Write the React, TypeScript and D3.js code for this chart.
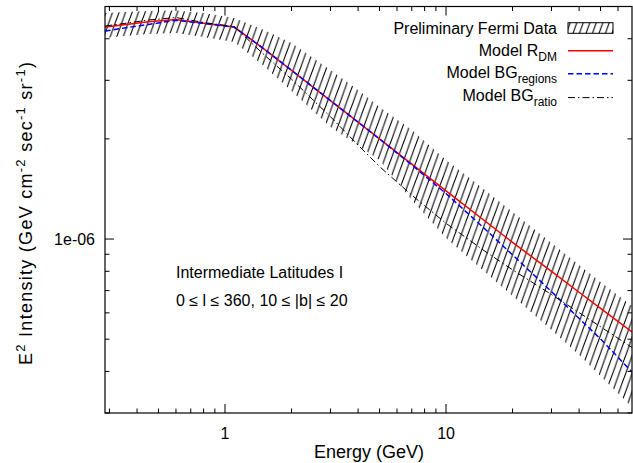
import React from "react";
import * as d3 from "d3";

const energies = [0.287, 0.35, 0.45, 0.6, 0.8, 1.1, 1.5, 2, 3, 4, 5, 7, 10, 15, 20, 30, 40, 50, 69.4];
const bandUpper = [4.78e-6, 4.813e-6, 4.846e-6, 4.863e-6, 4.78e-6, 4.617e-6, 4.25e-6, 3.884e-6, 3.221e-6, 2.805e-6, 2.493e-6, 2.127e-6, 1.728e-6, 1.404e-6, 1.206e-6, 9.73e-7, 8.35e-7, 7.43e-7, 6.29e-7];
const bandLower = [4.021e-6, 4.077e-6, 4.133e-6, 4.162e-6, 4.049e-6, 3.911e-6, 3.312e-6, 2.786e-6, 2.172e-6, 1.911e-6, 1.728e-6, 1.31e-6, 1.007e-6, 7.96e-7, 6.74e-7, 5.33e-7, 4.48e-7, 3.877e-7, 3.128e-7];
const modelRDM = [4.339e-6, 4.408e-6, 4.497e-6, 4.566e-6, 4.454e-6, 4.336e-6, 3.731e-6, 3.215e-6, 2.607e-6, 2.245e-6, 2.0e-6, 1.68e-6, 1.396e-6, 1.133e-6, 9.77e-7, 7.99e-7, 6.92e-7, 6.19e-7, 5.255e-7];
const modelBGregions = [4.22e-6, 4.308e-6, 4.414e-6, 4.547e-6, 4.448e-6, 4.336e-6, 3.731e-6, 3.215e-6, 2.607e-6, 2.245e-6, 2.0e-6, 1.67e-6, 1.37e-6, 1.072e-6, 8.96e-7, 6.95e-7, 5.77e-7, 5.01e-7, 3.985e-7];
const modelBGratio = [4.369e-6, 4.445e-6, 4.554e-6, 4.633e-6, 4.476e-6, 4.354e-6, 3.584e-6, 3.023e-6, 2.332e-6, 1.916e-6, 1.652e-6, 1.355e-6, 1.115e-6, 9.19e-7, 8.08e-7, 6.81e-7, 6.01e-7, 5.45e-7, 4.72e-7];

const xMajorTicks = [1, 10];
const xTickLabels = ["1", "10"];
const xMinorTicks = [0.3, 0.4, 0.5, 0.6, 0.7, 0.8, 0.9, 2, 3, 4, 5, 6, 7, 8, 9, 20, 30, 40, 50, 60];
const yMajorTicks = [1e-6];
const yTickLabels = ["1e-06"];
const yMinorTicks = [3e-7, 4e-7, 5e-7, 6e-7, 7e-7, 8e-7, 9e-7, 2e-6, 3e-6, 4e-6, 5e-6];

const W = 633, H = 463;
const L = 105, R = 632, T = 6.5, B = 413;
const FONT = "'Liberation Sans', Arial, Helvetica, sans-serif";

export default function App() {
  const x = d3.scaleLog().domain([0.2865, 69.4]).range([L, R]);
  const y = d3.scaleLog().domain([3e-7, 5e-6]).range([B, T]);

  const line = (vals: number[]) =>
    d3.line<number>().x((_, i) => x(energies[i])).y((d) => y(d))(vals) || "";
  const area =
    d3
      .area<number>()
      .x((_, i) => x(energies[i]))
      .y0((_, i) => y(bandLower[i]))
      .y1((_, i) => y(bandUpper[i]))(energies) || "";

  const maj = 9, mnr = 4.5;
  const tickPaths: string[] = [];
  xMajorTicks.forEach((t) => {
    const px = x(t);
    tickPaths.push(`M${px},${B}V${B - maj}M${px},${T}V${T + maj}`);
  });
  xMinorTicks.forEach((t) => {
    const px = x(t);
    tickPaths.push(`M${px},${B}V${B - mnr}M${px},${T}V${T + mnr}`);
  });
  yMajorTicks.forEach((t) => {
    const py = y(t);
    tickPaths.push(`M${L},${py}H${L + maj}M${R},${py}H${R - maj}`);
  });
  yMinorTicks.forEach((t) => {
    const py = y(t);
    tickPaths.push(`M${L},${py}H${L + mnr}M${R},${py}H${R - mnr}`);
  });

  const legX1 = 568, legX2 = 613, legTextX = 557;
  const rows = [33.5, 55.8, 78.3, 100.6];

  return (
    <svg width={W} height={H} style={{ display: "block", position: "absolute", left: 0, top: 0 }} fontFamily={FONT}>
      <defs>
        <pattern id="hatch" patternUnits="userSpaceOnUse" width="6.5" height="18">
          <path d="M0,18L6.5,0M-6.5,18L0,0M6.5,18L13,0" stroke="#000" strokeWidth="1.1" />
        </pattern>
        <clipPath id="plotclip">
          <rect x={L} y={T} width={R - L} height={B - T} />
        </clipPath>
      </defs>
      <rect x={0} y={0} width={W} height={H} fill="#fff" />
      <g clipPath="url(#plotclip)">
        <path d={area} fill="url(#hatch)" stroke="none" />
        <path d={line(modelRDM)} fill="none" stroke="#ff0000" strokeWidth={1.5} />
        <path d={line(modelBGregions)} fill="none" stroke="#0000ff" strokeWidth={1.5} strokeDasharray="5.5,3" />
        <path d={line(modelBGratio)} fill="none" stroke="#000" strokeWidth={1} strokeDasharray="7,3,1.5,3" />
      </g>
      <path d={tickPaths.join("")} stroke="#000" strokeWidth={1} fill="none" />
      <rect x={L} y={T} width={R - L} height={B - T} fill="none" stroke="#000" strokeWidth={1.2} />

      {xMajorTicks.map((t, i) => (
        <text key={"xl" + i} x={x(t)} y={439} textAnchor="middle" fontSize={16}>{xTickLabels[i]}</text>
      ))}
      {yMajorTicks.map((t, i) => (
        <text key={"yl" + i} x={95} y={y(t) + 5.5} textAnchor="end" fontSize={16}>{yTickLabels[i]}</text>
      ))}
      <text x={369} y={458} textAnchor="middle" fontSize={18}>Energy (GeV)</text>
      <text transform="translate(32,213.5) rotate(-90)" textAnchor="middle" fontSize={18} textLength={303} lengthAdjust="spacing">
        E<tspan dy={-7} fontSize={13}>2</tspan>
        <tspan dy={7}> Intensity (GeV cm</tspan>
        <tspan dy={-7} fontSize={13}>-2</tspan>
        <tspan dy={7}> sec</tspan>
        <tspan dy={-7} fontSize={13}>-1</tspan>
        <tspan dy={7}> sr</tspan>
        <tspan dy={-7} fontSize={13}>-1</tspan>
        <tspan dy={7}>)</tspan>
      </text>

      <text x={176} y={278} fontSize={16}>Intermediate Latitudes I</text>
      <text x={176} y={306} fontSize={16}>0 ≤ l ≤ 360, 10 ≤ |b| ≤ 20</text>

      <text x={legTextX} y={rows[0]} textAnchor="end" fontSize={16}>Preliminary Fermi Data</text>
      <rect x={legX1} y={rows[0] - 10.8} width={legX2 - legX1} height={10.6} fill="url(#hatch)" stroke="#000" strokeWidth={1} />

      <text x={legTextX} y={rows[1]} textAnchor="end" fontSize={16}>
        Model R<tspan dy={5} fontSize={12}>DM</tspan>
      </text>
      <line x1={legX1} x2={legX2} y1={rows[1] - 5} y2={rows[1] - 5} stroke="#ff0000" strokeWidth={1.5} />

      <text x={legTextX} y={rows[2]} textAnchor="end" fontSize={16}>
        Model BG<tspan dy={5} fontSize={12}>regions</tspan>
      </text>
      <line x1={legX1} x2={legX2} y1={rows[2] - 4.6} y2={rows[2] - 4.6} stroke="#0000ff" strokeWidth={1.5} strokeDasharray="5.5,3" />

      <text x={legTextX} y={rows[3]} textAnchor="end" fontSize={16}>
        Model BG<tspan dy={5} fontSize={12}>ratio</tspan>
      </text>
      <line x1={legX1} x2={legX2} y1={rows[3] - 3} y2={rows[3] - 3} stroke="#000" strokeWidth={1} strokeDasharray="7,3,1.5,3" />
    </svg>
  );
}
